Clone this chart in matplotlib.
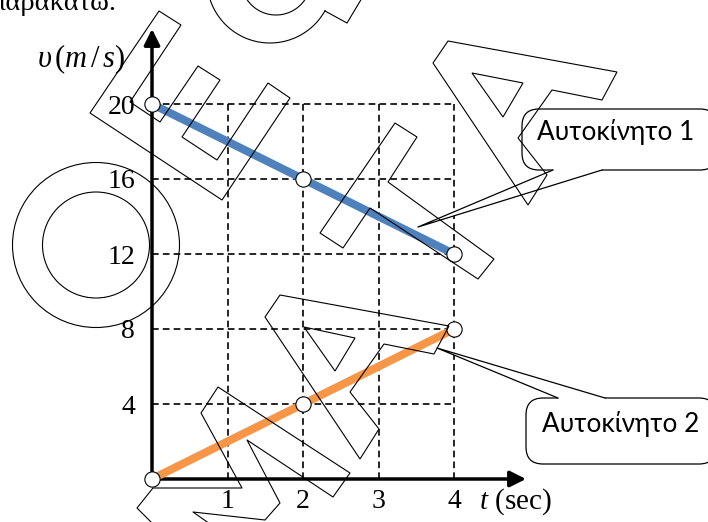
import matplotlib
matplotlib.use("Agg")
import matplotlib.pyplot as plt
import numpy as np
from matplotlib.patches import FancyBboxPatch, Polygon, Ellipse

# ---------------------------------------------------------------------------
# data: v-t diagram of two cars
# ---------------------------------------------------------------------------
t_points = [0, 2, 4]
v_car1 = [20, 16, 12]
v_car2 = [0, 4, 8]
t_grid = [1, 2, 3, 4]
v_grid = [4, 8, 12, 16, 20]
t_tick_labels = ["1", "2", "3", "4"]
v_tick_labels = ["4", "8", "12", "16", "20"]
callout_labels = ["Αυτοκίνητο 1", "Αυτοκίνητο 2"]

# ---------------------------------------------------------------------------
# layout (pixels)
# ---------------------------------------------------------------------------
W, H = 708, 522
X0, Y0 = 152, 479          # origin
PX_T, PX_V = 75.5, 18.75   # px per s, px per m/s

BLUE = "#4F81BD"
ORANGE = "#F79646"
SERIF = "Liberation Serif"
SANS = ["Lato", "Noto Sans", "DejaVu Sans"]

plt.rcParams["mathtext.fontset"] = "custom"
plt.rcParams["mathtext.rm"] = SERIF
plt.rcParams["mathtext.it"] = SERIF + ":italic"


def t_of(px):
    return (px - X0) / PX_T


def v_of(py):
    return (Y0 - py) / PX_V


fig = plt.figure(figsize=(W / 100, H / 100), dpi=100)
ax = fig.add_axes([0, 0, 1, 1])
ax.set_xlim(t_of(0), t_of(W))
ax.set_ylim(v_of(H), v_of(0))
ax.axis("off")

# ---- dashed grid ---------------------------------------------------------
for v in v_grid:
    ax.plot([0, t_grid[-1]], [v, v], color="black", lw=1.2,
            dashes=(4, 2.5), zorder=1)
for t in t_grid:
    ax.plot([t, t], [0, v_grid[-1]], color="black", lw=1.2,
            dashes=(4, 2.5), zorder=1)

# ---- axes with arrows ----------------------------------------------------
arrow = dict(arrowstyle="-|>", lw=2.5, color="black", mutation_scale=24,
             shrinkA=0, shrinkB=0)
ax.annotate("", xy=(0, v_of(29)), xytext=(0, 0), arrowprops=arrow, zorder=2)
ax.annotate("", xy=(t_of(526), 0), xytext=(0, 0), arrowprops=arrow, zorder=2)

# ---- the two cars --------------------------------------------------------
for vals, col in [(v_car1, BLUE), (v_car2, ORANGE)]:
    ax.plot(t_points, vals, color=col, lw=5.8, solid_capstyle="butt", zorder=3)
    ax.plot(t_points, vals, ls="none", marker="o", ms=11, mfc="white",
            mec="black", mew=0.8, zorder=4)

# ---- tick labels ---------------------------------------------------------
for v, lab in zip(v_grid, v_tick_labels):
    ax.text(t_of(135), v, lab, ha="right", va="center_baseline",
            fontsize=20, family=SERIF)
for t, lab in zip(t_grid, t_tick_labels):
    ax.text(t, v_of(508), lab, ha="center", va="baseline",
            fontsize=20, family=SERIF)

ax.text(t_of(37), v_of(67), r"$\upsilon\,(m\,/\,s)$", fontsize=22,
        ha="left", va="baseline")
ax.text(t_of(479), v_of(509), r"$t$ (sec)", fontsize=21, family=SERIF,
        ha="left", va="baseline")

# ---------------------------------------------------------------------------
# overlay in pixel coordinates: page text, callouts, watermark
# ---------------------------------------------------------------------------
ov = fig.add_axes([0, 0, 1, 1], zorder=5)
ov.set_xlim(0, W)
ov.set_ylim(H, 0)
ov.axis("off")
ov.patch.set_visible(False)

ov.text(117, 10, "παρακάτω.", ha="right", va="baseline", fontsize=20.5,
        family=SERIF)

callouts = [
    # box (x, y, w, h), pointer base x1, x2, tip, text pos
    ((522, 109, 195, 61), (553, 602), (418, 227), (537, 140)),
    ((526, 398, 190, 66), (558, 605), (437, 348), (542, 432)),
]
for (bx, by, bw, bh), (p1, p2), tip, _ in callouts:
    ov.add_patch(FancyBboxPatch((bx, by), bw, bh,
                                boxstyle="round,pad=0,rounding_size=17",
                                fc="white", ec="black", lw=0.9, zorder=1))
    edge = by + bh if tip[1] > by else by
    inner = edge - 2 if tip[1] > by else edge + 2
    ov.add_patch(Polygon([(p1, inner), (p1, edge), tip, (p2, edge),
                          (p2, inner)], closed=True, fc="white", ec="none",
                         zorder=2))
    ov.plot([p1, tip[0], p2], [edge, tip[1], edge], color="black", lw=0.9,
            zorder=3)
for (_, _, _, (tx, ty)), lab in zip(callouts, callout_labels):
    ov.text(tx, ty, lab, fontsize=18.8, family=SANS, ha="left",
            va="baseline", zorder=4)

# ---- watermark outlines ---------------------------------------------------
wm = dict(fill=False, ec="black", lw=0.8, zorder=6)
ov.add_patch(Ellipse((96, 245), 167, 165, **wm))
ov.add_patch(Ellipse((96, 245), 107, 106, **wm))

ang = np.radians(np.linspace(29, 180, 80))
ov.plot(270 + 63 * np.cos(ang), -20 + 63 * np.sin(ang), color="black",
        lw=0.8, zorder=6)
ang = np.radians(np.linspace(0, 180, 60))
ov.plot(276 + 35 * np.cos(ang), -20 + 35 * np.sin(ang), color="black",
        lw=0.8, zorder=6)
ov.plot([325, 347, 362], [11, 23, -2], color="black", lw=0.8, zorder=6)

shapes = [
    # rotated E
    [(159, 11), (181, 25), (130, 102), (160, 122), (198, 66), (220, 80),
     (182, 137), (217, 160), (268, 83), (290, 98), (222, 200), (90, 113)],
    # rotated bar shape
    [(320, 233), (395, 123), (417, 137), (388, 182), (494, 259), (478, 279),
     (370, 208), (343, 248)],
    # upper A
    [(448, 41), (617, 72), (602, 100), (552, 90), (518, 138), (547, 175),
     (528, 205), (433, 63)],
    [(472, 73), (523, 83), (503, 117)],
    # lower A
    [(280, 295), (449, 326), (434, 354), (384, 344), (350, 392), (379, 429),
     (360, 459), (265, 317)],
    [(304, 327), (355, 338), (335, 371)],
]
for pts in shapes:
    ov.add_patch(Polygon(pts, closed=True, **wm))

# M at the bottom (runs off the page)
m_x = [153, 137, 153, 242, 201, 218, 350, 333, 247, 280, 265, 193, 210]
m_y = [524, 508, 488, 488, 413, 387, 473, 497, 440, 503, 520, 512, 524]
ov.plot(m_x, m_y, color="black", lw=0.8, zorder=6)

fig.savefig("out.png", dpi=100)
